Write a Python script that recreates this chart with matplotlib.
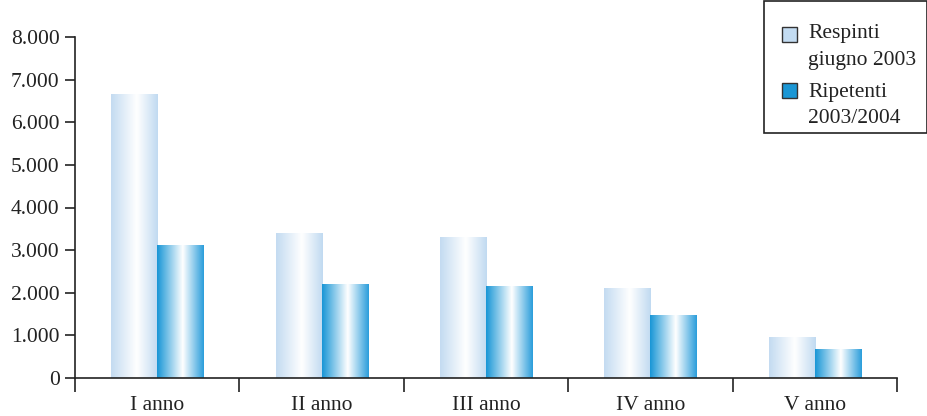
import numpy as np
import matplotlib
matplotlib.use("Agg")
import matplotlib.pyplot as plt
from matplotlib.colors import LinearSegmentedColormap
from matplotlib.patches import Rectangle
from matplotlib.ticker import FuncFormatter, FixedLocator

categories = ["I anno", "II anno", "III anno", "IV anno", "V anno"]
respinti = [6660, 3400, 3290, 2090, 960]
ripetenti = [3100, 2200, 2140, 1455, 680]
series_labels = [["Respinti", "giugno 2003"], ["Ripetenti", "2003/2004"]]
yticks = [0, 1000, 2000, 3000, 4000, 5000, 6000, 7000, 8000]

plt.rcParams['font.family'] = ['Liberation Serif', 'DejaVu Serif']

light_cmap = LinearSegmentedColormap.from_list(
    "light", [(0.0, "#c3dbf1"), (0.55, "#ffffff"), (1.0, "#c0daf1")])
dark_cmap = LinearSegmentedColormap.from_list(
    "dark", [(0.0, "#1896d6"), (0.55, "#ffffff"), (1.0, "#2a9ddb")])

fig = plt.figure(figsize=(9.28, 4.16), dpi=100)
ax = fig.add_axes([75/928, 1-378/416, (897-75)/928, (378-37)/416])

width = 0.28
grad = np.linspace(0, 1, 256).reshape(1, -1)
for i, (r, p) in enumerate(zip(respinti, ripetenti)):
    c = i + 0.5
    ax.imshow(grad, extent=[c - width, c, 0, r], aspect='auto', cmap=light_cmap,
              interpolation='bilinear', origin='lower', zorder=2)
    ax.imshow(grad, extent=[c, c + width, 0, p], aspect='auto', cmap=dark_cmap,
              interpolation='bilinear', origin='lower', zorder=2)

ax.set_xlim(0, 5)
ax.set_ylim(0, 8000)
ax.set_aspect('auto')

for s in ['top', 'right']:
    ax.spines[s].set_visible(False)
for s in ['left', 'bottom']:
    ax.spines[s].set_linewidth(1.2)
    ax.spines[s].set_color('#222222')

ax.yaxis.set_major_locator(FixedLocator(yticks))
ax.yaxis.set_major_formatter(FuncFormatter(lambda v, _: f"{int(v):,}".replace(",", ".")))
ax.tick_params(axis='y', direction='out', length=7, width=1.2, color='#222222',
               labelsize=15.5, pad=4, labelcolor='#222222')

ax.xaxis.set_major_locator(FixedLocator(np.arange(0, 6)))
ax.xaxis.set_minor_locator(FixedLocator(np.arange(5) + 0.5))
ax.xaxis.set_major_formatter(FuncFormatter(lambda v, _: ""))
ax.set_xticklabels(categories, minor=True)
ax.tick_params(axis='x', which='major', direction='out', length=10, width=1.2, color='#222222')
ax.tick_params(axis='x', which='minor', length=0, labelsize=15.5, pad=13, labelcolor='#222222')

# Legend box
fig.patches.append(Rectangle((764/928, 1-133/416), (926.5-764)/928, (133-1.5)/416,
                             transform=fig.transFigure,
                             facecolor='white', edgecolor='#222222', linewidth=1.2))
sq_w = 15/928
sq_h = 15/416
fig.patches.append(Rectangle((782/928, 1-42/416), sq_w, sq_h, transform=fig.transFigure,
                             facecolor='#c3dcf2', edgecolor='#333333', linewidth=1.0))
fig.patches.append(Rectangle((782/928, 1-98/416), sq_w, sq_h, transform=fig.transFigure,
                             facecolor='#1a96d4', edgecolor='#333333', linewidth=1.0))
baselines = [[38, 65], [97, 123]]
for lines, bls in zip(series_labels, baselines):
    for txt, b in zip(lines, bls):
        fig.text(808/928, 1-b/416, txt, fontsize=15.5, va='baseline', ha='left',
                 color='#222222')

fig.savefig("out.png", dpi=100)
